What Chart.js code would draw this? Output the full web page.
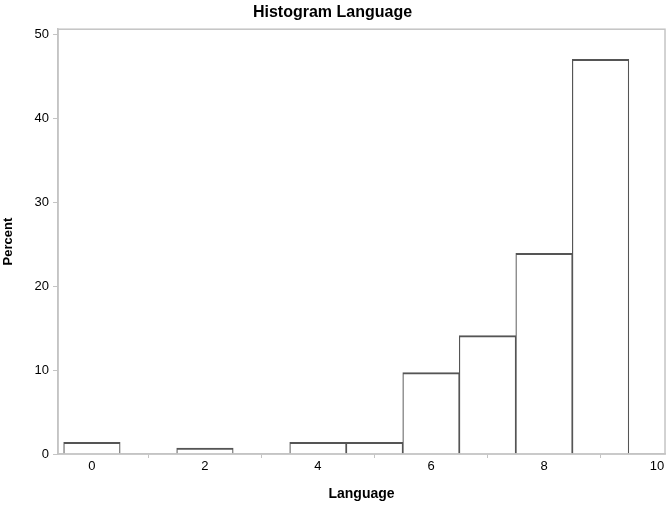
<!DOCTYPE html>
<html>
<head>
<meta charset="utf-8">
<script src="https://cdn.jsdelivr.net/npm/chart.js@4"></script>
<style>
  html, body { margin: 0; padding: 0; background: #fff; }
</style>
</head>
<body>
<canvas id="histogram-language" width="670" height="507"></canvas>
<script>
// Histogram of Language scores, bins centred on integers (width 1)
const languageValues = [0, 2, 4, 5, 6, 7, 8, 9];
const percentValues = [1.4, 0.7, 1.4, 1.4, 9.7, 14.1, 23.9, 47.0];
const xTickValues = [0, 2, 4, 6, 8, 10];
const yTickValues = [0, 10, 20, 30, 40, 50];

const frameColor = "#c4c4c4";
const labelFont = "'Liberation Sans', Arial, sans-serif";

// light grey box all round the plot area
const plotFrame = {
  id: "plotFrame",
  afterDraw(chart) {
    const { ctx, chartArea } = chart;
    ctx.save();
    ctx.strokeStyle = frameColor;
    ctx.lineWidth = 1.5;
    ctx.strokeRect(chartArea.left, chartArea.top, chartArea.right - chartArea.left, chartArea.bottom - chartArea.top);
    ctx.restore();
  },
};

document.addEventListener("DOMContentLoaded", () => {
  new Chart(document.getElementById("histogram-language"), {
    type: "bar",
    plugins: [plotFrame],
    data: {
      datasets: [
        {
          data: languageValues.map((x, i) => ({ x: x, y: percentValues[i] })),
          backgroundColor: "#ffffff",
          borderColor: "#555555",
          borderWidth: { top: 2, left: 1.2, right: 1.2, bottom: 0 },
          barPercentage: 1,
          categoryPercentage: 1,
        },
      ],
    },
    options: {
      responsive: false,
      animation: false,
      layout: { padding: { top: 0, right: 5, bottom: 0, left: 0 } },
      plugins: {
        legend: { display: false },
        tooltip: { enabled: false },
        title: {
          display: true,
          text: "Histogram Language",
          color: "#000",
          font: { family: labelFont, size: 16, weight: "bold" },
          padding: { top: 3, bottom: 7 },
        },
      },
      scales: {
        x: {
          type: "linear",
          offset: false,
          min: -0.6,
          max: 10.14,
          afterFit: (s) => { s.height = 53; },
          afterBuildTicks: (s) => { s.ticks = xTickValues.map((v) => ({ value: v })); },
          border: { color: frameColor, width: 1.5 },
          grid: { drawOnChartArea: false, color: frameColor, tickLength: 4 },
          ticks: { color: "#000", padding: 1, font: { family: labelFont, size: 13 } },
          title: {
            display: true,
            text: "Language",
            color: "#000",
            font: { family: labelFont, size: 14, weight: "bold" },
            padding: { top: 0, bottom: 4 },
          },
        },
        y: {
          min: 0,
          max: 50.6,
          afterFit: (s) => { s.width = 58; },
          afterBuildTicks: (s) => { s.ticks = yTickValues.map((v) => ({ value: v })); },
          border: { color: frameColor, width: 1.5 },
          grid: { drawOnChartArea: false, color: frameColor, tickLength: 5 },
          ticks: { color: "#000", padding: 4, font: { family: labelFont, size: 13 } },
          title: {
            display: true,
            text: "Percent",
            color: "#000",
            font: { family: labelFont, size: 13, weight: "bold" },
            padding: { top: 1, bottom: 0 },
          },
        },
      },
    },
  });
});
</script>
</body>
</html>
